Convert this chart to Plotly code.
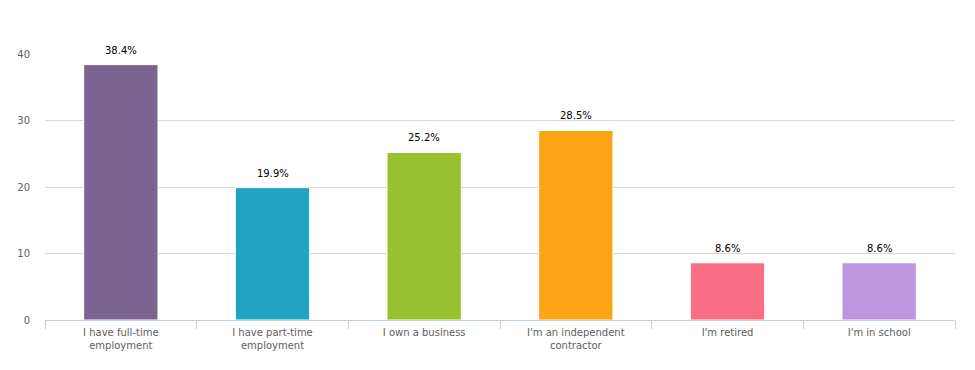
import plotly.graph_objects as go

categories = ["I have full-time<br>employment", "I have part-time<br>employment", "I own a business",
              "I'm an independent<br>contractor", "I'm retired", "I'm in school"]
values = [38.4, 19.9, 25.2, 28.5, 8.6, 8.6]
colors = ["#7B6491", "#21A3C4", "#97C12F", "#FCA414", "#F96E84", "#BD96E0"]
y_ticks = [0, 10, 20, 30, 40]

FONT = "DejaVu Sans"

fig = go.Figure()
fig.add_trace(go.Bar(
    x=categories, y=values,
    marker=dict(color=colors, line=dict(color="white", width=1)),
    width=0.49,
    hoverinfo="skip",
))

for c, v in zip(categories, values):
    fig.add_annotation(x=c, y=v, text=f"{v:.1f}%", showarrow=False,
                       yanchor="bottom", yshift=7,
                       font=dict(family=FONT, size=10, color="#000000"))

fig.update_layout(
    width=975, height=370,
    margin=dict(l=45, r=20, t=54, b=50),
    paper_bgcolor="white", plot_bgcolor="white",
    showlegend=False,
    font=dict(family=FONT, size=10, color="#606060"),
)
fig.update_xaxes(
    automargin=False,
    showgrid=False, showline=True, linecolor="#C0D0E0", linewidth=1,
    ticks="outside", tickson="boundaries", ticklen=8, tickcolor="#C0D0E0",
    ticklabelstandoff=3,
    tickfont=dict(family=FONT, size=10, color="#606060"),
)
fig.update_yaxes(
    automargin=False,
    range=[0, 40], tickvals=y_ticks, showgrid=True, gridcolor="#D8D8D8",
    zeroline=False, showline=False, ticks="", ticklabelstandoff=14,
    tickfont=dict(family=FONT, size=10, color="#606060"),
)

fig.write_html("out.html", config={"displayModeBar": False},
               post_script="document.body.style.margin='0';document.body.style.overflow='hidden';")
